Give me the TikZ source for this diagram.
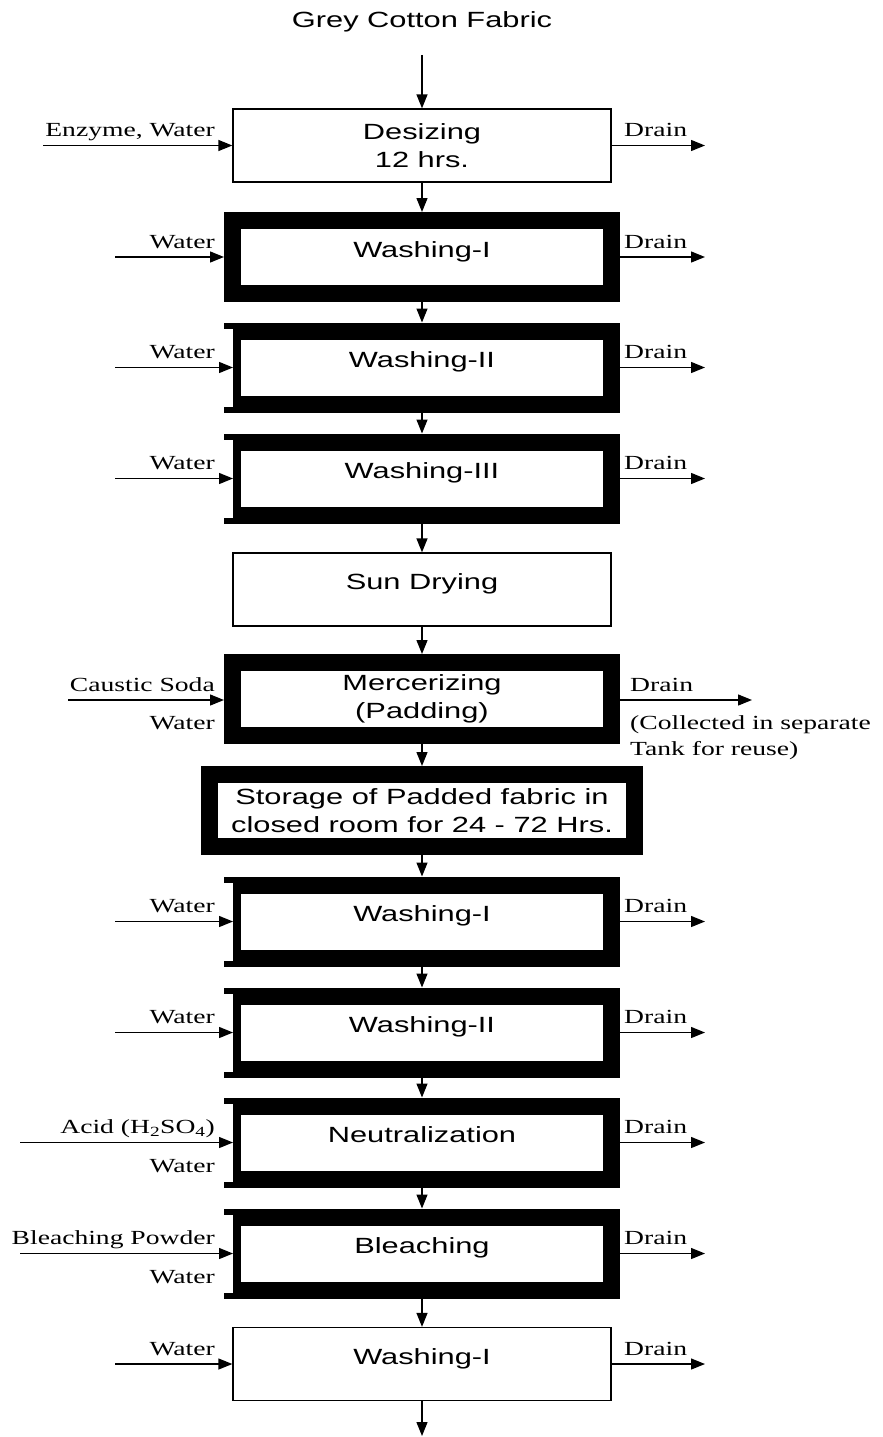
\documentclass[tikz,border=0pt]{standalone}
\usepackage{fontspec}
\setmainfont{Liberation Serif}[FakeStretch=1.38]
\newfontfamily\boxfont{Liberation Sans}[FakeStretch=1.4]
\usetikzlibrary{arrows.meta}
\begin{document}
\begin{tikzpicture}[x=1pt,y=-1pt,
  arr/.style={line width=1.3pt,-{Triangle[length=14pt,width=11pt]}},
  boxtext/.style={font=\boxfont\fontsize{22}{28}\selectfont,align=center,inner sep=0pt},
  thinbox/.style={boxtext,draw,line width=1.3pt,minimum width=378pt,minimum height=73pt,outer sep=0.65pt},
  thickbox/.style={boxtext,draw,line width=17pt,minimum width=379pt,minimum height=73pt,outer sep=8.5pt},
  one/.style={text height=10pt,text depth=10pt},
  lab/.style={font=\fontsize{20}{26}\selectfont,inner sep=0pt},
  labl/.style={lab,anchor=base east},
  labr/.style={lab,anchor=base west,align=left},
  notch/.style={fill=white}
]
\useasboundingbox (0,0) rectangle (883,1437);

% title
\node[boxtext,anchor=base] (grey) at (422,28) {Grey Cotton Fabric};
\coordinate (c0) at (422,55);

% boxes
\node[thinbox] (des) at (422,145.5) {Desizing\\12 hrs.};
\node[thickbox,one] (w1) at (422,257) {Washing-I};
\node[thickbox,one] (w2) at (422,367.5) {Washing-II};
\node[thickbox,one] (w3) at (422,478.5) {Washing-III};
\node[thinbox,one] (sun) at (422,589.5) {Sun Drying};
\node[thickbox] (mer) at (422,699) {Mercerizing\\(Padding)};
\node[thickbox,minimum width=425pt,minimum height=72pt] (sto) at (422,810.5) {Storage of Padded fabric in\\closed room for 24 - 72 Hrs.};
\node[thickbox,one] (w1b) at (422,921.5) {Washing-I};
\node[thickbox,one] (w2b) at (422,1032.5) {Washing-II};
\node[thickbox,one] (neu) at (422,1142.5) {Neutralization};
\node[thickbox,one] (ble) at (422,1253.5) {Bleaching};
\node[thinbox,one] (w1c) at (422,1364) {Washing-I};
\coordinate (cend) at (422,1436);

% notches on left side of some thick boxes
\foreach \c in {367.5,478.5,921.5,1032.5,1142.5,1253.5}{
  \fill[notch] (222,\c-39) rectangle (233,\c+39);
}

% main flow
\draw[arr] (c0) -- (des);
\draw[arr] (des) -- (w1);
\draw[arr] (w1) -- (w2);
\draw[arr] (w2) -- (w3);
\draw[arr] (w3) -- (sun);
\draw[arr] (sun) -- (mer);
\draw[arr] (mer) -- (sto);
\draw[arr] (sto) -- (w1b);
\draw[arr] (w1b) -- (w2b);
\draw[arr] (w2b) -- (neu);
\draw[arr] (neu) -- (ble);
\draw[arr] (ble) -- (w1c);
\draw[arr] (w1c) -- (cend);

% inputs
\coordinate (ides) at (43,145.5);
\draw[arr] (ides) -- (des.west);
\node[labl] (ldes) at (215,136.5) {Enzyme, Water};

\coordinate (iw1) at (115,257);
\draw[arr] (iw1) -- (w1.west);
\node[labl] (lw1) at (215,248) {Water};

\coordinate (iw2) at (115,367.5);
\coordinate (ew2) at (233,367.5);
\draw[arr] (iw2) -- (ew2);
\node[labl] (lw2) at (215,358.5) {Water};

\coordinate (iw3) at (115,478.5);
\coordinate (ew3) at (233,478.5);
\draw[arr] (iw3) -- (ew3);
\node[labl] (lw3) at (215,469.5) {Water};

\coordinate (imer) at (68,700);
\draw[arr] (imer) -- (mer.west|-imer);
\node[labl] (lmer) at (215,691) {Caustic Soda};
\node[labl] (lmer2) at (215,729) {Water};

\coordinate (iw1b) at (115,921.5);
\coordinate (ew1b) at (233,921.5);
\draw[arr] (iw1b) -- (ew1b);
\node[labl] (lw1b) at (215,912.5) {Water};

\coordinate (iw2b) at (115,1032.5);
\coordinate (ew2b) at (233,1032.5);
\draw[arr] (iw2b) -- (ew2b);
\node[labl] (lw2b) at (215,1023.5) {Water};

\coordinate (ineu) at (20,1142.5);
\coordinate (eneu) at (233,1142.5);
\draw[arr] (ineu) -- (eneu);
\node[labl] (lneu) at (215,1133.5) {Acid (H\textsubscript{2}SO\textsubscript{4})};
\node[labl] (lneu2) at (215,1172.5) {Water};

\coordinate (ible) at (20,1253.5);
\coordinate (eble) at (233,1253.5);
\draw[arr] (ible) -- (eble);
\node[labl] (lble) at (215,1244.5) {Bleaching Powder};
\node[labl] (lble2) at (215,1283.5) {Water};

\coordinate (iw1c) at (115,1364);
\draw[arr] (iw1c) -- (w1c.west);
\node[labl] (lw1c) at (215,1355) {Water};

% drains
\foreach \n/\y in {des/145.5,w1/257,w2/367.5,w3/478.5,w1b/921.5,w2b/1032.5,neu/1142.5,ble/1253.5,w1c/1364}{
  \coordinate (d\n) at (705,\y);
  \draw[arr] (\n.east) -- (d\n);
  \node[labr] (ld\n) at (624,\y-9) {Drain};
}
\coordinate (dmer) at (752,700);
\draw[arr] (mer.east|-dmer) -- (dmer);
\node[labr] (ldmer) at (630,691) {Drain};
\node[labr] (ldmer2) at (630,729) {(Collected in separate};
\node[labr] (ldmer3) at (630,755) {Tank for reuse)};
\end{tikzpicture}
\end{document}
